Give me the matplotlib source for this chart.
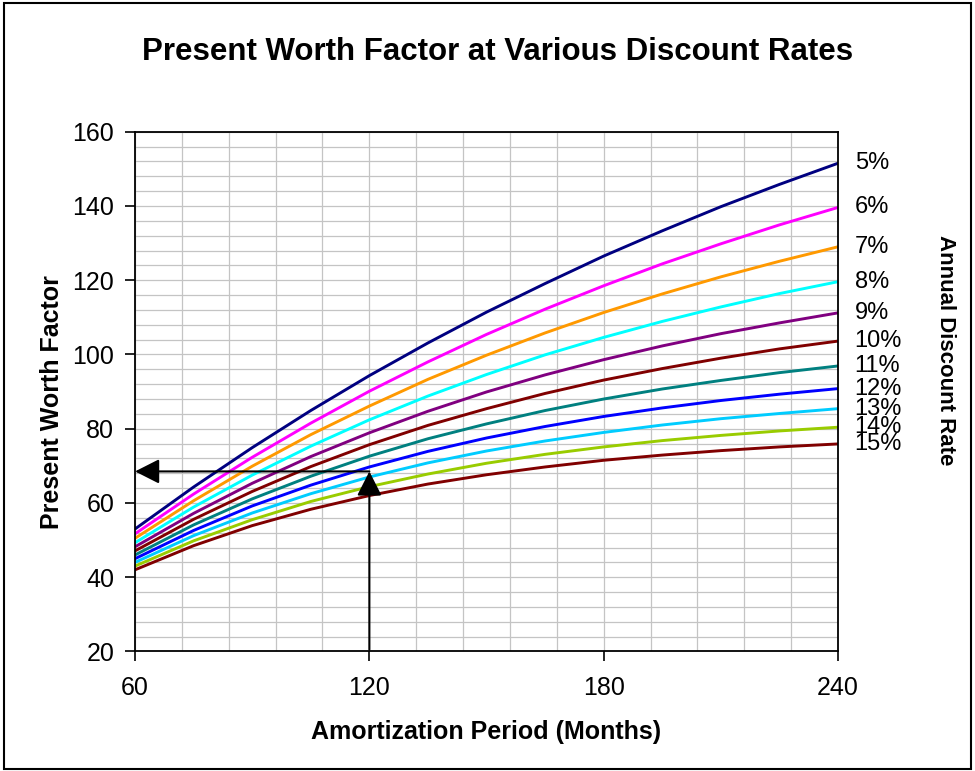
import matplotlib.pyplot as plt
from matplotlib.ticker import MultipleLocator
from matplotlib.patches import Rectangle

plt.rcParams['font.family'] = ['Liberation Sans', 'DejaVu Sans']

# Amortization period (months) and present worth factor per annual rate
months = [60, 75, 90, 105, 120, 135, 150, 165, 180, 195, 210, 225, 240]

pwf_5 = [53.0, 64.3, 74.9, 84.9, 94.3, 103.1, 111.4, 119.1, 126.5, 133.3, 139.8, 145.8, 151.5]
pwf_6 = [51.7, 62.4, 72.3, 81.5, 90.1, 98.0, 105.4, 112.2, 118.5, 124.4, 129.8, 134.9, 139.6]
pwf_7 = [50.5, 60.6, 69.9, 78.4, 86.1, 93.3, 99.8, 105.8, 111.3, 116.3, 120.9, 125.1, 129.0]
pwf_8 = [49.3, 58.9, 67.5, 75.3, 82.4, 88.8, 94.6, 99.9, 104.6, 108.9, 112.8, 116.4, 119.6]
pwf_9 = [48.2, 57.2, 65.3, 72.5, 78.9, 84.7, 89.9, 94.5, 98.6, 102.3, 105.6, 108.5, 111.2]
pwf_10 = [47.1, 55.6, 63.1, 69.8, 75.7, 80.9, 85.4, 89.5, 93.1, 96.2, 99.0, 101.5, 103.6]
pwf_11 = [46.0, 54.1, 61.1, 67.2, 72.6, 77.3, 81.3, 84.9, 88.0, 90.7, 93.0, 95.1, 96.9]
pwf_12 = [45.0, 52.6, 59.2, 64.8, 69.7, 73.9, 77.5, 80.6, 83.3, 85.6, 87.6, 89.3, 90.8]
pwf_13 = [44.0, 51.2, 57.3, 62.5, 67.0, 70.8, 74.0, 76.7, 79.0, 81.0, 82.7, 84.1, 85.4]
pwf_14 = [43.0, 49.8, 55.5, 60.4, 64.4, 67.8, 70.7, 73.1, 75.1, 76.8, 78.2, 79.4, 80.4]
pwf_15 = [42.0, 48.5, 53.9, 58.3, 62.0, 65.1, 67.6, 69.7, 71.5, 72.9, 74.1, 75.1, 75.9]

rate_labels = ['5%', '6%', '7%', '8%', '9%', '10%', '11%', '12%', '13%', '14%', '15%']
series = [pwf_5, pwf_6, pwf_7, pwf_8, pwf_9, pwf_10, pwf_11, pwf_12, pwf_13, pwf_14, pwf_15]
colors = ['#000080', '#FF00FF', '#FF9900', '#00FFFF', '#800080', '#800000',
          '#008080', '#0000FF', '#00CCFF', '#99CC00', '#800000']

# example lookup: 120 months -> factor read at left axis
lookup_month = 120
lookup_value = 68.5

fig = plt.figure(figsize=(9.75, 7.71), dpi=100)
ax = fig.add_axes([0.1385, 0.155, 0.721, 0.6742])

for vals, col, lab in zip(series, colors, rate_labels):
    ax.plot(months, vals, color=col, lw=2.1, solid_joinstyle='round')
    ax.annotate(lab, xy=(months[-1], vals[-1]), xytext=(12, 0),
                textcoords='offset points', va='center', ha='left',
                fontsize=17, annotation_clip=False)

# arrows
arrow_kw = dict(arrowstyle='-|>,head_length=0.75,head_width=0.38',
                color='black', lw=1.5, shrinkA=0, shrinkB=0, mutation_scale=20)
ax.annotate('', xy=(lookup_month, lookup_value), xytext=(lookup_month, 20.5),
            arrowprops=arrow_kw, annotation_clip=False)
ax.annotate('', xy=(60, lookup_value), xytext=(lookup_month, lookup_value),
            arrowprops=arrow_kw, annotation_clip=False)

ax.set_xlim(60, 240)
ax.set_ylim(20, 160)
ax.xaxis.set_major_locator(MultipleLocator(60))
ax.xaxis.set_minor_locator(MultipleLocator(12))
ax.yaxis.set_major_locator(MultipleLocator(20))
ax.yaxis.set_minor_locator(MultipleLocator(4))
ax.grid(True, which='both', color='#c4c4c4', lw=0.9)
ax.set_axisbelow(True)
ax.tick_params(which='major', direction='out', length=7, width=1.2,
               labelsize=18)
ax.tick_params(axis='y', which='major', pad=8)
ax.tick_params(axis='x', which='major', pad=11)
ax.tick_params(which='minor', length=0)
for sp in ax.spines.values():
    sp.set_linewidth(1.3)

ax.set_xlabel('Amortization Period (Months)', fontsize=18, fontweight='bold',
              labelpad=14)
ax.set_ylabel('Present Worth Factor', fontsize=18, fontweight='bold')
ax.yaxis.set_label_coords(-0.101, 0.48)
fig.text(0.51, 0.922, 'Present Worth Factor at Various Discount Rates',
         ha='center', va='baseline', fontsize=22.5, fontweight='bold')
fig.text(0.970, 0.546, 'Annual Discount Rate', rotation=-90, ha='center',
         va='center', fontsize=16, fontweight='bold')

# outer frame
fig.patches.append(Rectangle((0.004, 0.003), 0.992, 0.993, transform=fig.transFigure,
                             fill=False, edgecolor='black', lw=1.5))

fig.savefig('out.png', dpi=100)
